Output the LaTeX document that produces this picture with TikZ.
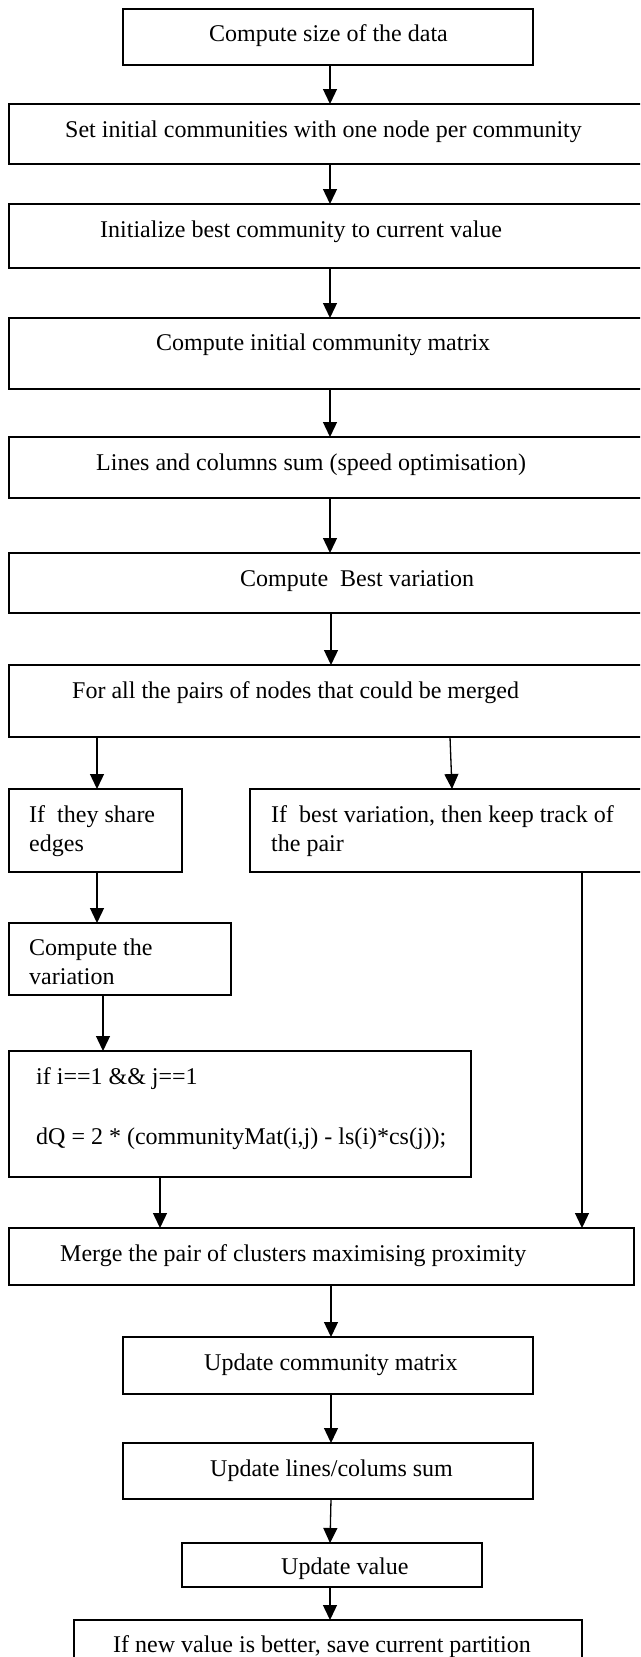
\documentclass[tikz,border=0pt]{standalone}
\usepackage{fontspec}
\setmainfont{Liberation Serif}
\usetikzlibrary{arrows.meta}
\begin{document}
\begin{tikzpicture}[x=1pt,y=-1pt,
  box/.style={draw, line width=1.3pt, rectangle, inner sep=0pt, outer sep=0pt, anchor=north west},
  txt/.style={anchor=base west, inner sep=0pt, align=left, font=\fontsize{24}{29}\selectfont},
  arr/.style={line width=1.3pt, -{Triangle[length=15pt,width=14pt]}}]
\useasboundingbox (0,0) rectangle (640,1657);
\clip (0,0) rectangle (640,1657);
% boxes
\node[box, minimum width=410pt, minimum height=56pt] (b1) at (123,9) {};
\node[box, minimum width=641pt, minimum height=60pt] (b2) at (9,104) {};
\node[box, minimum width=641pt, minimum height=64pt] (b3) at (9,204) {};
\node[box, minimum width=641pt, minimum height=71pt] (b4) at (9,318) {};
\node[box, minimum width=641pt, minimum height=61pt] (b5) at (9,437) {};
\node[box, minimum width=641pt, minimum height=60pt] (b6) at (9,553) {};
\node[box, minimum width=641pt, minimum height=72pt] (b7) at (9,665) {};
\node[box, minimum width=173pt, minimum height=83pt] (b8) at (9,789) {};
\node[box, minimum width=400pt, minimum height=83pt] (b9) at (250,789) {};
\node[box, minimum width=222pt, minimum height=72pt] (b10) at (9,923) {};
\node[box, minimum width=462pt, minimum height=126pt] (b11) at (9,1051) {};
\node[box, minimum width=625pt, minimum height=57pt] (b12) at (9,1228) {};
\node[box, minimum width=410pt, minimum height=57pt] (b13) at (123,1337) {};
\node[box, minimum width=410pt, minimum height=56pt] (b14) at (123,1443) {};
\node[box, minimum width=300pt, minimum height=44pt] (b15) at (182,1543) {};
\node[box, minimum width=508pt, minimum height=60pt] (b16) at (74,1620) {};
% texts (multi-line nodes are placed at the baseline of their last line)
\node[txt] (t1) at (209,41) {Compute size of the data};
\node[txt] (t2) at (65,137) {Set initial communities with one node per community};
\node[txt] (t3) at (100,237) {Initialize best community to current value};
\node[txt] (t4) at (156,350) {Compute initial community matrix};
\node[txt] (t5) at (96,470) {Lines and columns sum (speed optimisation)};
\node[txt] (t6) at (240,586) {Compute\ \ Best variation};
\node[txt] (t7) at (72,698) {For all the pairs of nodes that could be merged};
\node[txt] (t8) at (29,851) {If\ \ they share\\edges};
\node[txt] (t9) at (271,851) {If\ \ best variation, then keep track of\\the pair};
\node[txt] (t10) at (29,984) {Compute the\\variation};
\node[txt] (t11) at (36,1144) {if i==1 \&\& j==1\\[31pt]dQ = 2 * (communityMat(i,j) - ls(i)*cs(j));};
\node[txt] (t12) at (60,1261) {Merge the pair of clusters maximising proximity};
\node[txt] (t13) at (204,1370) {Update community matrix};
\node[txt] (t14) at (210,1476) {Update lines/colums sum};
\node[txt] (t15) at (281,1574) {Update value};
\node[txt] (t16) at (113,1652) {If new value is better, save current partition};
% connectors
\draw[arr] (330,0 |- b1.south) -- (330,0 |- b2.north);
\draw[arr] (330,0 |- b2.south) -- (330,0 |- b3.north);
\draw[arr] (330,0 |- b3.south) -- (330,0 |- b4.north);
\draw[arr] (330,0 |- b4.south) -- (330,0 |- b5.north);
\draw[arr] (330,0 |- b5.south) -- (330,0 |- b6.north);
\draw[arr] (331,0 |- b6.south) -- (331,0 |- b7.north);
\draw[arr] (97,0 |- b7.south) -- (97,0 |- b8.north);
\draw[arr] (450,0 |- b7.south) -- (452,0 |- b9.north);
\draw[arr] (97,0 |- b8.south) -- (97,0 |- b10.north);
\draw[arr] (103,0 |- b10.south) -- (103,0 |- b11.north);
\draw[arr] (160,0 |- b11.south) -- (160,0 |- b12.north);
\draw[arr] (582,0 |- b9.south) -- (582,0 |- b12.north);
\draw[arr] (331,0 |- b12.south) -- (331,0 |- b13.north);
\draw[arr] (331,0 |- b13.south) -- (331,0 |- b14.north);
\draw[arr] (331,0 |- b14.south) -- (330,0 |- b15.north);
\draw[arr] (330,0 |- b15.south) -- (330,0 |- b16.north);
\end{tikzpicture}
\end{document}
